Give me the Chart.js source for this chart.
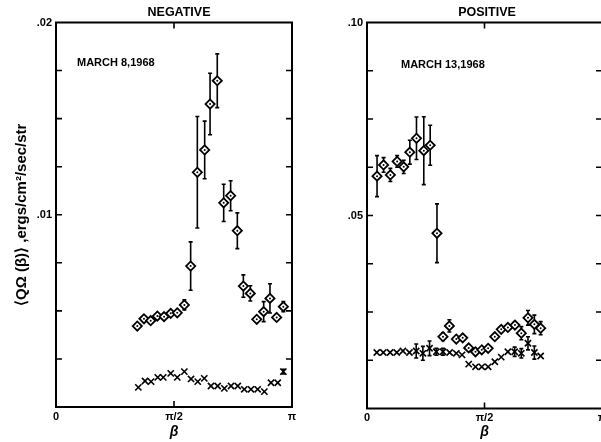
<!DOCTYPE html>
<html>
<head>
<meta charset="utf-8">
<script src="https://cdn.jsdelivr.net/npm/chart.js@4.4.0/dist/chart.umd.min.js"></script>
<style>
  html, body { margin: 0; padding: 0; background: #fff; overflow: hidden; }
  body { width: 601px; height: 442px; position: relative; }
  .panel { position: absolute; top: 0; width: 300px; height: 442px; }
  #negBox { left: 0; }
  #posBox { left: 310px; }
</style>
</head>
<body>
<div class="panel" id="negBox"><canvas id="chartNeg"></canvas></div>
<div class="panel" id="posBox"><canvas id="chartPos"></canvas></div>
<script>
// beta in degrees, 0..180 = 0..pi
// NEGATIVE, March 8 1968
const negDiamondBeta = [62.0, 67.1, 72.2, 77.3, 82.4, 87.5, 92.5, 97.9, 102.7, 107.8, 113.4, 117.5, 123.0, 127.9, 133.2, 138.3, 142.9, 148.2, 153.1, 158.4, 163.2, 168.3, 173.4];
const negDiamond = [0.00421, 0.00459, 0.00449, 0.00473, 0.00470, 0.00487, 0.00490, 0.00531, 0.00733, 0.01221, 0.01337, 0.01576, 0.01697, 0.01062, 0.01099, 0.00917, 0.00629, 0.00591, 0.00456, 0.00496, 0.00565, 0.00466, 0.00522];
const negDiamondErr = [0, 0, 0, 0, 0, 0, 0, 0.00026, 0.00126, 0.0029, 0.0015, 0.0016, 0.0014, 0.00097, 0.00078, 0.00093, 0.00058, 0.0004, 0, 0.00052, 0.00076, 0, 0.00026];

const negCrossBeta = [62.8, 67.9, 72.5, 77.6, 81.8, 87.5, 92.5, 97.9, 103.0, 108.1, 113.1, 118.2, 123.3, 128.4, 133.5, 138.6, 143.6, 148.7, 153.8, 158.9, 164.0, 169.1, 173.4];
const negCross = [0.00102, 0.00135, 0.00132, 0.00154, 0.00154, 0.00175, 0.00154, 0.00184, 0.00146, 0.00132, 0.00149, 0.00109, 0.00109, 0.00097, 0.00109, 0.00109, 0.00092, 0.00092, 0.00092, 0.00080, 0.00126, 0.00126, 0.00184];
const negCrossErr = [0, 0, 0, 0, 0, 0, 0, 0, 0, 0, 0, 0, 0, 0, 0, 0, 0, 0, 0, 0, 0, 0, 0.00012];

// POSITIVE, March 13 1968
const posHighBeta = [7.7, 12.7, 17.9, 23.1, 28.1, 32.8, 37.9, 43.5, 48.4, 53.6];
const posHigh = [0.0602, 0.0631, 0.0605, 0.0640, 0.0626, 0.0664, 0.0700, 0.0668, 0.0682, 0.0454];
const posHighErr = [0.0053, 0.0019, 0.0017, 0.0015, 0.0017, 0.0031, 0.0055, 0.0088, 0.0052, 0.0076];

const posLowBeta = [58.2, 63.1, 68.4, 73.3, 77.9, 83.1, 87.9, 92.8, 97.9, 102.8, 107.9, 113.3, 118.2, 123.3, 128.2, 133.0];
const posLow = [0.0186, 0.0214, 0.0180, 0.0183, 0.0157, 0.0147, 0.0152, 0.0156, 0.0186, 0.0205, 0.0210, 0.0216, 0.0195, 0.0235, 0.0218, 0.0208];
const posLowErr = [0.001, 0.0016, 0, 0, 0, 0, 0, 0, 0, 0, 0, 0.0008, 0.0017, 0.0019, 0.0024, 0.0017];

const posCrossBeta = [7.5, 12.5, 17.7, 22.8, 27.5, 32.5, 37.7, 42.8, 47.9, 53.1, 58.2, 63.3, 68.4, 72.8, 77.9, 83.1, 87.9, 92.8, 97.9, 102.8, 107.9, 113.1, 118.2, 123.3, 128.2, 133.0];
const posCross = [0.0145, 0.0145, 0.0145, 0.0145, 0.0149, 0.0145, 0.0149, 0.0143, 0.0156, 0.0147, 0.0147, 0.0145, 0.0143, 0.0139, 0.0115, 0.0108, 0.0108, 0.0108, 0.0121, 0.0133, 0.0147, 0.0147, 0.0143, 0.0169, 0.0145, 0.0136];
const posCrossErr = [0, 0, 0, 0, 0, 0, 0.0018, 0.0018, 0.0019, 0.0009, 0.0009, 0, 0, 0, 0, 0, 0, 0, 0, 0, 0, 0.0012, 0.0012, 0.0017, 0.0017, 0];

const betaTickValues = [0, 90, 180];
const betaTickLabels = ['0', 'π/2', 'π'];
const negYTicks = [[0.01, '.01'], [0.02, '.02']];
const posYTicks = [[0.05, '.05'], [0.10, '.10']];

const FONT = "'Liberation Sans', Arial, sans-serif";

const toPoints = (xs, ys) => xs.map((x, i) => ({ x, y: ys[i] }));

function diamonds(xs, ys, errs) {
  return {
    data: toPoints(xs, ys), errors: errs, dot: true,
    pointStyle: 'rectRot', pointRadius: 4.6, borderWidth: 1.8,
    borderColor: '#000', backgroundColor: '#fff', showLine: false
  };
}
function crosses(xs, ys, errs) {
  return {
    data: toPoints(xs, ys), errors: errs,
    pointStyle: 'crossRot', pointRadius: 4.4, borderWidth: 1.6,
    borderColor: '#000', backgroundColor: '#000', showLine: false
  };
}

// error bars, drawn under the markers
const errorBars = {
  id: 'errorBars',
  beforeDatasetsDraw(chart) {
    const { ctx, scales: { x, y } } = chart;
    ctx.save();
    ctx.strokeStyle = '#000';
    ctx.lineWidth = 1.6;
    chart.data.datasets.forEach(ds => {
      if (!ds.errors) return;
      ds.data.forEach((p, i) => {
        const e = ds.errors[i];
        if (!e) return;
        const px = x.getPixelForValue(p.x);
        const top = y.getPixelForValue(p.y + e);
        const bot = y.getPixelForValue(p.y - e);
        ctx.beginPath();
        ctx.moveTo(px, top); ctx.lineTo(px, bot);
        ctx.moveTo(px - 2, top); ctx.lineTo(px + 2, top);
        ctx.moveTo(px - 2, bot); ctx.lineTo(px + 2, bot);
        ctx.stroke();
      });
    });
    ctx.restore();
  },
  afterDatasetsDraw(chart) {
    const { ctx } = chart;
    ctx.save();
    ctx.fillStyle = '#000';
    chart.data.datasets.forEach((ds, di) => {
      if (!ds.dot) return;
      chart.getDatasetMeta(di).data.forEach(pt => {
        ctx.beginPath();
        ctx.arc(pt.x, pt.y, 1, 0, Math.PI * 2);
        ctx.fill();
      });
    });
    ctx.restore();
  }
};

// frame with inward ticks, titles and date text
const frame = {
  id: 'frame',
  afterDraw(chart, args, opts) {
    const { ctx, chartArea: a, scales: { x, y } } = chart;
    ctx.save();
    ctx.strokeStyle = '#000';
    ctx.lineWidth = 2;
    ctx.strokeRect(a.left, a.top, a.right - a.left, a.bottom - a.top);
    ctx.lineWidth = 1.6;
    ctx.beginPath();
    y.ticks.forEach(t => {
      const py = y.getPixelForValue(t.value);
      if (py <= a.top + 1 || py >= a.bottom - 1) return;
      ctx.moveTo(a.left, py); ctx.lineTo(a.left + 6, py);
      ctx.moveTo(a.right, py); ctx.lineTo(a.right - 6, py);
    });
    x.ticks.forEach(t => {
      const px = x.getPixelForValue(t.value);
      if (px <= a.left + 1 || px >= a.right - 1) return;
      ctx.moveTo(px, a.bottom); ctx.lineTo(px, a.bottom - 6);
      ctx.moveTo(px, a.top); ctx.lineTo(px, a.top + 6);
    });
    ctx.stroke();

    ctx.fillStyle = '#000';
    ctx.textBaseline = 'middle';
    ctx.textAlign = 'center';
    ctx.font = `bold 12.5px ${FONT}`;
    ctx.fillText(opts.title, opts.titleX, 13);
    ctx.textAlign = 'left';
    ctx.font = `bold 11px ${FONT}`;
    ctx.fillText(opts.date, opts.dateX, opts.dateY);
    ctx.restore();
  }
};

function makeChart(id, c) {
  return new Chart(document.getElementById(id), {
    type: 'scatter',
    data: { datasets: c.datasets },
    plugins: [errorBars, frame],
    options: {
      responsive: true,
      maintainAspectRatio: false,
      animation: false,
      events: [],
      layout: { padding: { top: 22.5, right: c.padRight, bottom: 0, left: 0 } },
      plugins: {
        legend: { display: false },
        tooltip: { enabled: false },
        frame: c.text
      },
      scales: {
        x: {
          type: 'linear', min: 0, max: 180,
          afterBuildTicks: s => { s.ticks = betaTickValues.map(v => ({ value: v })); },
          afterFit: s => { s.height = c.xHeight; },
          grid: { display: false, drawTicks: false },
          border: { display: false },
          ticks: {
            autoSkip: false, maxRotation: 0, padding: 3, color: '#000',
            font: { family: FONT, size: 11, weight: 'bold' },
            callback: v => betaTickLabels[betaTickValues.indexOf(v)]
          },
          title: {
            display: true, text: 'β', color: '#000',
            font: { family: FONT, size: 14, weight: 'bold', style: 'italic' },
            padding: { top: 0, bottom: 1 }
          }
        },
        y: {
          type: 'linear', min: 0, max: c.yMax,
          afterFit: s => { s.width = c.yWidth; },
          grid: { display: false, drawTicks: false },
          border: { display: false },
          ticks: {
            stepSize: c.yMax / 8, autoSkip: false, padding: 4, color: '#000',
            font: { family: FONT, size: 11, weight: 'bold' },
            callback: v => {
              const hit = c.yTicks.find(t => Math.abs(t[0] - v) < c.yMax * 1e-6);
              return hit ? hit[1] : '';
            }
          },
          title: {
            display: !!c.yTitle, text: c.yTitle || '', color: '#000',
            font: { family: FONT, size: 15, weight: 'bold' },
            padding: { top: 13, bottom: 0 }
          }
        }
      }
    }
  });
}

makeChart('chartNeg', {
  datasets: [
    crosses(negCrossBeta, negCross, negCrossErr),
    diamonds(negDiamondBeta, negDiamond, negDiamondErr)
  ],
  yMax: 0.02, yTicks: negYTicks, yWidth: 56, xHeight: 35, padRight: 8,
  yTitle: '⟨QΩ (β)⟩ ,ergs/cm²/sec/str',
  text: { title: 'NEGATIVE', titleX: 179, date: 'MARCH 8,1968', dateX: 77, dateY: 62.5 }
});

makeChart('chartPos', {
  datasets: [
    crosses(posCrossBeta, posCross, posCrossErr),
    diamonds(posLowBeta, posLow, posLowErr),
    diamonds(posHighBeta, posHigh, posHighErr)
  ],
  yMax: 0.10, yTicks: posYTicks, yWidth: 57, xHeight: 33.5, padRight: 8,
  text: { title: 'POSITIVE', titleX: 177, date: 'MARCH 13,1968', dateX: 91, dateY: 65 }
});
</script>
</body>
</html>
